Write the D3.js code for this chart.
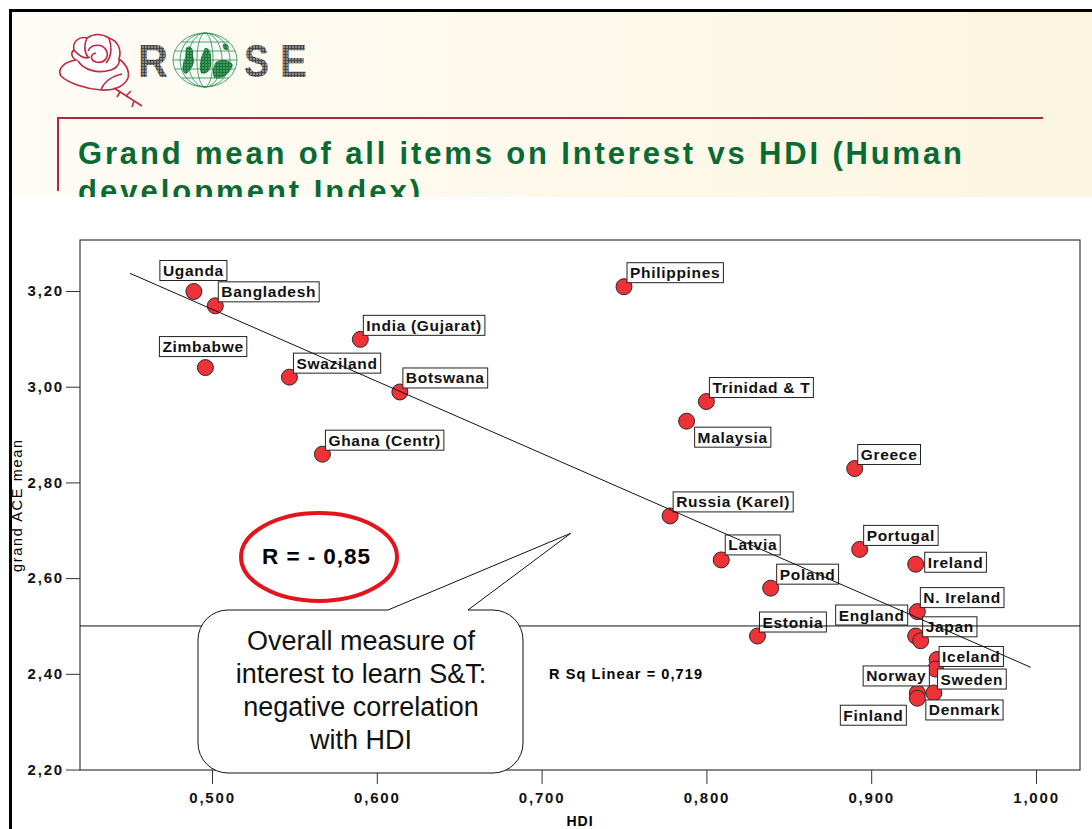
<!DOCTYPE html>
<html>
<head>
<meta charset="utf-8">
<script src="https://cdn.jsdelivr.net/npm/d3@7"></script>
<style>
  body { margin: 0; background: #fff; }
  svg { display: block; }
  text { font-family: "Liberation Sans", Arial, sans-serif; }
</style>
</head>
<body>
<script>
// data
const countries = ["Uganda","Bangladesh","Zimbabwe","Swaziland","India (Gujarat)","Botswana","Ghana (Centr)",
  "Philippines","Trinidad & T","Malaysia","Greece","Russia (Karel)","Latvia","Portugal","Ireland","Poland",
  "N. Ireland","England","Japan","Estonia","Iceland","Sweden","Norway","Finland","Denmark"];
const hdi = [0.489,0.502,0.496,0.547,0.590,0.614,0.567,
  0.750,0.800,0.788,0.890,0.778,0.809,0.893,0.927,0.839,
  0.928,0.927,0.930,0.831,0.940,0.939,0.928,0.928,0.938];
const aceMean = [3.199,3.169,3.040,3.020,3.099,2.989,2.859,
  3.209,2.969,2.928,2.829,2.730,2.638,2.660,2.629,2.579,
  2.530,2.479,2.469,2.479,2.430,2.410,2.360,2.349,2.360];
const xTicks = [0.5,0.6,0.7,0.8,0.9,1.0];
const yTicks = [2.2,2.4,2.6,2.8,3.0,3.2];
const fitHdi = [0.4502, 0.9968];
const fitMean = [3.237, 2.4136];
const refMean = 2.5;

// where each label box sits relative to its point (left/top, or right edge with ex)
const labelPlace = {
  "Uganda":{dx:-34,dy:-31}, "Zimbabwe":{dx:-46,dy:-31}, "Swaziland":{dx:4,dy:-24},
  "Malaysia":{dx:8,dy:6}, "Latvia":{dx:4,dy:-25}, "Portugal":{dx:4,dy:-24},
  "Ireland":{dx:9,dy:-12}, "Poland":{dx:6,dy:-24}, "England":{ex:-8,dy:-31},
  "Japan":{dx:2,dy:-24}, "Estonia":{dx:2,dy:-24}, "Iceland":{dx:2,dy:-13},
  "Sweden":{dx:2,dy:0}, "Norway":{ex:12,dy:-27}, "Finland":{ex:-11,dy:7},
  "Denmark":{dx:-8,dy:7}
};

const width = 1092, height = 829;
const svg = d3.select("body").append("svg").attr("width", width).attr("height", height);
const defs = svg.append("defs");

// slide header background
const grad = defs.append("linearGradient").attr("id","cream").attr("x1","0").attr("x2","1");
grad.append("stop").attr("offset","0").attr("stop-color","#fefcf6");
grad.append("stop").attr("offset","1").attr("stop-color","#fcf5df");
const grid = defs.append("pattern").attr("id","grid").attr("width",3).attr("height",3).attr("patternUnits","userSpaceOnUse");
grid.append("rect").attr("width",3).attr("height",3).attr("fill","#8a8a8a");
grid.append("path").attr("d","M0,0.5H3M0.5,0V3").attr("stroke","#444").attr("stroke-width",0.9);
const ggrid = defs.append("pattern").attr("id","ggrid").attr("width",3).attr("height",3).attr("patternUnits","userSpaceOnUse");
ggrid.append("rect").attr("width",3).attr("height",3).attr("fill","#3a9a5a");
ggrid.append("path").attr("d","M0,0.5H3M0.5,0V3").attr("stroke","#1d6b38").attr("stroke-width",0.8);

svg.append("rect").attr("x",10).attr("y",10).attr("width",1082).attr("height",187).attr("fill","url(#cream)");

// logo: rose
const rose = svg.append("g").attr("fill","none").attr("stroke","#c1273b").attr("stroke-width",1.6);
rose.append("path").attr("fill","#fff")
  .attr("d","M76,60 C63,62 57,70 61,76 C68,83 86,89 101,90 C113,91 124,87 128,78 C130,70 125,63 119,59 C122,50 118,41 109,38 C101,33 93,34 87,38 C79,36 72,42 74,50 C70,53 72,58 76,60 Z");
rose.append("path").attr("d","M88,51 C91,44 102,43 106,50 C110,57 104,64 96,62 C90,60 90,54 96,53");
rose.append("path").attr("d","M78,61 C84,70 97,74 111,70 C118,68 120,62 119,59");
rose.append("path").attr("d","M74,50 C80,57 86,59 90,57");
rose.append("path").attr("d","M109,38 C112,46 112,56 106,63");
rose.append("path").attr("d","M87,38 C84,44 84,52 88,57");
rose.append("path").attr("d","M101,90 C104,82 112,76 122,74");
rose.append("path").attr("d","M114,88 L142,106 M126,96 L131,91 M134,101 L132,107 M120,92 L117,97");

// logo: letters and globe
[["R",138,30],["S",244,25],["E",280,27]].forEach(([t,x,w]) => {
  svg.append("text").attr("x",x).attr("y",77).attr("font-size",46).attr("font-weight","bold")
    .attr("textLength",w).attr("lengthAdjust","spacingAndGlyphs").attr("fill","url(#grid)").text(t);
});
const globe = svg.append("g").attr("fill","none").attr("stroke","#2f8a4c").attr("stroke-width",0.8);
globe.append("ellipse").attr("cx",205).attr("cy",60).attr("rx",32).attr("ry",27).attr("fill","#f4faf5");
[8,17,25].forEach(r => globe.append("ellipse").attr("cx",205).attr("cy",60).attr("rx",r).attr("ry",27));
[-18,-9,0,9,18].forEach(d => {
  const hw = 32*Math.sqrt(1-(d/27)*(d/27));
  globe.append("line").attr("x1",205-hw).attr("x2",205+hw).attr("y1",60+d).attr("y2",60+d);
});
globe.append("path").attr("fill","url(#ggrid)").attr("stroke","none")
  .attr("d","M186,48 C190,44 194,48 193,56 C196,62 192,70 186,74 C181,72 182,64 185,58 Z");
globe.append("path").attr("fill","url(#ggrid)").attr("stroke","none")
  .attr("d","M205,48 C209,47 212,53 211,60 C213,68 207,76 201,73 C198,66 201,56 205,48 Z");
globe.append("path").attr("fill","url(#ggrid)").attr("stroke","none")
  .attr("d","M216,62 C222,58 230,60 233,65 C230,74 222,80 214,78 C212,72 213,66 216,62 Z");
globe.append("path").attr("fill","url(#ggrid)").attr("stroke","none")
  .attr("d","M223,44 C227,42 230,46 228,50 C225,51 222,48 223,44 Z");

// red rule and title
svg.append("path").attr("d","M57,118 H1043 M58,118 V191").attr("stroke","#b3233b").attr("stroke-width",2).attr("fill","none");
const title = svg.append("g").attr("fill","#0a6a34").attr("font-weight","bold").attr("font-size",31);
title.append("text").attr("x",78).attr("y",164).attr("textLength",884).attr("lengthAdjust","spacing")
  .text("Grand mean of all items on Interest vs HDI (Human");
title.append("text").attr("x",78).attr("y",202).attr("textLength",342).attr("lengthAdjust","spacing")
  .text("development Index)");
svg.append("rect").attr("x",12).attr("y",197).attr("width",1080).attr("height",632).attr("fill","#fff");

// slide borders
svg.append("path").attr("d","M9,10.5 H1092 M10.5,9 V829").attr("stroke","#000").attr("stroke-width",3);

// chart
const x = d3.scaleLinear().domain([0.4199, 1.0267]).range([80, 1080]);
const y = d3.scaleLinear().domain([2.1990, 3.3066]).range([770, 240]);
const loc = d3.formatLocale({decimal: ",", thousands: ".", grouping: [3], currency: ["", ""]});

svg.append("rect").attr("x",80).attr("y",240).attr("width",1000).attr("height",530)
  .attr("fill","none").attr("stroke","#3a3a3a").attr("stroke-width",1.2);

const xAxis = svg.append("g").attr("transform","translate(0,770)")
  .call(d3.axisBottom(x).tickValues(xTicks).tickSize(14).tickPadding(8).tickFormat(loc.format(".3f")));
const yAxis = svg.append("g").attr("transform","translate(80,0)")
  .call(d3.axisLeft(y).tickValues(yTicks).tickSize(14).tickPadding(2).tickFormat(loc.format(".2f")));
[xAxis, yAxis].forEach(a => {
  a.select(".domain").remove();
  a.selectAll(".tick line").attr("stroke","#333");
  a.selectAll(".tick text").attr("font-family","'Liberation Sans', Arial, sans-serif")
    .attr("font-size",15).attr("font-weight","bold").attr("fill","#111").attr("letter-spacing","1.8px");
});

svg.append("text").attr("x",580).attr("y",826).attr("text-anchor","middle")
  .attr("font-size",14).attr("font-weight","bold").attr("letter-spacing","1px").text("HDI");
svg.append("text").attr("transform","translate(22,506) rotate(-90)").attr("text-anchor","middle")
  .attr("font-size",14.5).attr("textLength",132).attr("lengthAdjust","spacing").text("grand ACE mean");

// points
const rows = countries.map((c,i) => ({name:c, hdi:hdi[i], mean:aceMean[i]}));
svg.append("g").selectAll("circle").data(rows).enter().append("circle")
  .attr("cx", d => x(d.hdi)).attr("cy", d => y(d.mean)).attr("r", 8)
  .attr("fill","#ee3238").attr("stroke","#2a2a2a").attr("stroke-width",1);

// labels
const lab = svg.append("g").selectAll("g").data(rows).enter().append("g");
lab.each(function(d) {
  const g = d3.select(this);
  const t = g.append("text").attr("font-size",15.5).attr("font-weight","bold")
    .attr("letter-spacing","0.7px").attr("fill","#111").text(d.name);
  const w = t.node().getComputedTextLength() + 6;
  const p = labelPlace[d.name] || {dx:3, dy:-24};
  const left = p.ex !== undefined ? x(d.hdi) + p.ex - w : x(d.hdi) + p.dx;
  const top = y(d.mean) + p.dy;
  g.insert("rect","text").attr("x",left).attr("y",top).attr("width",w).attr("height",20)
    .attr("fill","#fff").attr("stroke","#222").attr("stroke-width",1);
  t.attr("x",left+3).attr("y",top+15.5);
});

// reference and fit lines
svg.append("line").attr("x1",80).attr("x2",1080).attr("y1",y(refMean)).attr("y2",y(refMean))
  .attr("stroke","#111").attr("stroke-width",1);
svg.append("line").attr("x1",x(fitHdi[0])).attr("y1",y(fitMean[0])).attr("x2",x(fitHdi[1])).attr("y2",y(fitMean[1]))
  .attr("stroke","#111").attr("stroke-width",1);

svg.append("text").attr("x",549).attr("y",679).attr("font-size",14.5).attr("font-weight","bold")
  .attr("textLength",153).attr("lengthAdjust","spacing").text("R Sq Linear = 0,719");

// callout
svg.append("path").attr("fill","#fff").attr("stroke","#111").attr("stroke-width",1)
  .attr("d","M388,610 L570.7,533.3 L468,610 H493 A30,30 0 0 1 523,640 V743 A30,30 0 0 1 493,773 H228 A30,30 0 0 1 198,743 V640 A30,30 0 0 1 228,610 Z");
const callout = svg.append("g").attr("font-size",27).attr("text-anchor","middle").attr("fill","#111");
[["Overall measure of",650],["interest to learn S&T:",683],["negative correlation",716],["with HDI",749]]
  .forEach(([t,yy]) => callout.append("text").attr("x",361).attr("y",yy).text(t));

svg.append("ellipse").attr("cx",319).attr("cy",557).attr("rx",78).attr("ry",44)
  .attr("fill","none").attr("stroke","#e5141c").attr("stroke-width",4);
svg.append("text").attr("x",262).attr("y",564).attr("font-size",22.5).attr("font-weight","bold")
  .attr("textLength",108).attr("lengthAdjust","spacing").text("R = - 0,85");
</script>
</body>
</html>
